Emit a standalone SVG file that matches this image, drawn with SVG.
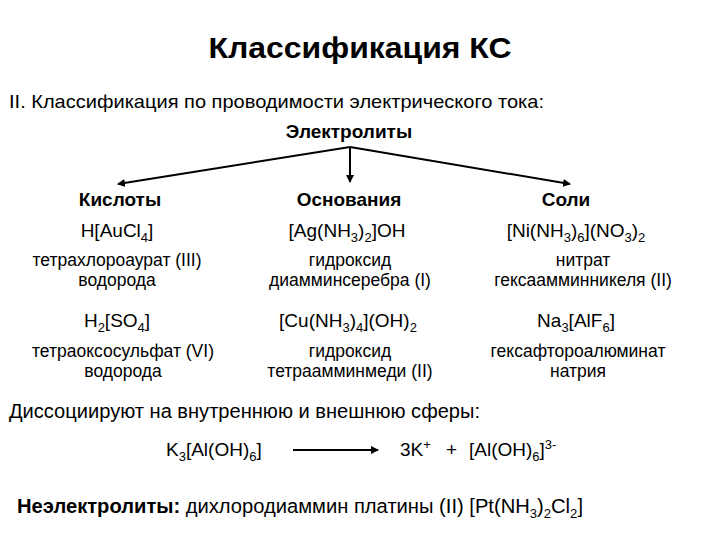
<svg xmlns="http://www.w3.org/2000/svg" width="720" height="540" viewBox="0 0 720 540">
<style>
text{font-family:"Liberation Sans",Arial,sans-serif;fill:#000}
.t{font-size:30px;font-weight:bold}
.h{font-size:19px}
.b{font-size:19px;font-weight:bold}
.f{font-size:19px}
.n{font-size:17.5px}
.s{font-size:13px}
line{stroke:#000;stroke-width:2}
</style>
<defs><marker id="a" markerWidth="8" markerHeight="8" refX="7" refY="4" orient="auto" markerUnits="userSpaceOnUse"><path d="M0,0 L8,4 L0,8 Z" fill="#000"/></marker></defs>
<rect width="720" height="540" fill="#fff"/>
<text class="t" x="360" y="58" text-anchor="middle" textLength="303" lengthAdjust="spacingAndGlyphs">Классификация КС</text>
<text class="h" x="9" y="108" textLength="535" lengthAdjust="spacingAndGlyphs">II. Классификация по проводимости электрического тока:</text>
<g id="electrolytes"><text class="b" x="349" y="138" text-anchor="middle">Электролиты</text></g>
<g id="connectors">
<line x1="350" y1="147" x2="118" y2="184" marker-end="url(#a)"/>
<line x1="350" y1="147" x2="350" y2="182" marker-end="url(#a)"/>
<line x1="350" y1="147" x2="570" y2="184" marker-end="url(#a)"/>
<line x1="293" y1="450" x2="378" y2="450" marker-end="url(#a)"/>
</g>
<g id="acids" text-anchor="middle">
<text class="b" x="120" y="206">Кислоты</text>
<text class="f" x="117" y="237">H[AuCl<tspan class="s" dy="5">4</tspan><tspan dy="-5">]</tspan></text>
<text class="n" x="117" y="266">тетрахлороаурат (III)</text>
<text class="n" x="117" y="286">водорода</text>
<text class="f" x="117" y="327">H<tspan class="s" dy="5">2</tspan><tspan dy="-5">[SO</tspan><tspan class="s" dy="5">4</tspan><tspan dy="-5">]</tspan></text>
<text class="n" x="123" y="357">тетраоксосульфат (VI)</text>
<text class="n" x="123" y="377">водорода</text>
</g>
<g id="bases" text-anchor="middle">
<text class="b" x="349" y="206">Основания</text>
<text class="f" x="347" y="237">[Ag(NH<tspan class="s" dy="5">3</tspan><tspan dy="-5">)</tspan><tspan class="s" dy="5">2</tspan><tspan dy="-5">]OH</tspan></text>
<text class="n" x="350" y="266">гидроксид</text>
<text class="n" x="350" y="286">диамминсеребра (I)</text>
<text class="f" x="348" y="327">[Cu(NH<tspan class="s" dy="5">3</tspan><tspan dy="-5">)</tspan><tspan class="s" dy="5">4</tspan><tspan dy="-5">](OH)</tspan><tspan class="s" dy="5">2</tspan></text>
<text class="n" x="350" y="357">гидроксид</text>
<text class="n" x="350" y="377">тетраамминмеди (II)</text>
</g>
<g id="salts" text-anchor="middle">
<text class="b" x="566" y="206">Соли</text>
<text class="f" x="576" y="237">[Ni(NH<tspan class="s" dy="5">3</tspan><tspan dy="-5">)</tspan><tspan class="s" dy="5">6</tspan><tspan dy="-5">](NO</tspan><tspan class="s" dy="5">3</tspan><tspan dy="-5">)</tspan><tspan class="s" dy="5">2</tspan></text>
<text class="n" x="583" y="266">нитрат</text>
<text class="n" x="583" y="286">гексаамминникеля (II)</text>
<text class="f" x="576" y="327">Na<tspan class="s" dy="5">3</tspan><tspan dy="-5">[AlF</tspan><tspan class="s" dy="5">6</tspan><tspan dy="-5">]</tspan></text>
<text class="n" x="578" y="357">гексафтороалюминат</text>
<text class="n" x="578" y="377">натрия</text>
</g>
<g id="dissociation">
<text class="f" x="9" y="418" style="font-size:20px" textLength="471" lengthAdjust="spacingAndGlyphs">Диссоциируют на внутреннюю и внешнюю сферы:</text>
<text class="f" x="166" y="456">K<tspan class="s" dy="5">3</tspan><tspan dy="-5">[Al(OH)</tspan><tspan class="s" dy="5">6</tspan><tspan dy="-5">]</tspan></text>
<text class="f" x="400" y="456">3K<tspan class="s" dy="-7">+</tspan></text>
<text class="f" x="446" y="456">+</text>
<text class="f" x="469" y="456">[Al(OH)<tspan class="s" dy="5">6</tspan><tspan dy="-5">]</tspan><tspan class="s" dy="-7">3-</tspan></text>
</g>
<g id="nonelectrolytes">
<text class="f" x="17" y="513" style="font-size:20px" textLength="566" lengthAdjust="spacingAndGlyphs"><tspan font-weight="bold">Неэлектролиты:</tspan> дихлородиаммин платины (II) [Pt(NH<tspan class="s" dy="5">3</tspan><tspan dy="-5">)</tspan><tspan class="s" dy="5">2</tspan><tspan dy="-5">Cl</tspan><tspan class="s" dy="5">2</tspan><tspan dy="-5">]</tspan></text>
</g>
</svg>
